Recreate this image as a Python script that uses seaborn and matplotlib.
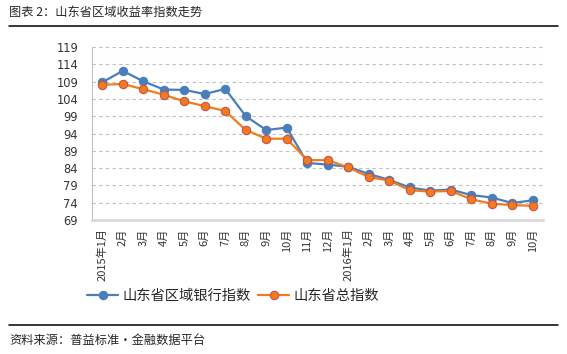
import seaborn as sns
import matplotlib.pyplot as plt
import matplotlib.lines as mlines
import pandas as pd

# data
months = ["2015年1月", "2月", "3月", "4月", "5月", "6月", "7月", "8月", "9月", "10月", "11月", "12月",
          "2016年1月", "2月", "3月", "4月", "5月", "6月", "7月", "8月", "9月", "10月"]
bank_index = [108.8, 112.1, 109.1, 106.7, 106.6, 105.4, 106.9, 99.0, 95.0, 95.7, 85.5, 85.0,
              84.4, 82.3, 80.6, 78.4, 77.5, 77.8, 76.2, 75.5, 73.9, 74.7]
total_index = [108.1, 108.3, 106.8, 105.2, 103.3, 101.9, 100.5, 95.0, 92.5, 92.5, 86.3, 86.3,
               84.2, 81.4, 80.4, 77.6, 77.2, 77.4, 75.0, 73.7, 73.3, 73.1]
series_names = ["山东省区域银行指数", "山东省总指数"]
yticks = list(range(69, 120, 5))

df = pd.DataFrame({"pos": range(len(months)), "month": months,
                   series_names[0]: bank_index, series_names[1]: total_index})

sns.set_theme(style="white")
plt.rcParams['font.family'] = ['Noto Sans CJK SC', 'DejaVu Sans']

fig = plt.figure(figsize=(5.67, 3.54), dpi=100)
ax = fig.add_axes([92/567, 1-220/354, (543-92)/567, (220-47)/354])

styles = {
    series_names[0]: dict(color="#4a7ebb", mec="#4a7ebb"),
    series_names[1]: dict(color="#f07c1e", mec="#c9504a"),
}
for name in series_names:
    st = styles[name]
    sns.lineplot(data=df, x="pos", y=name, ax=ax, color=st["color"], linewidth=1.6,
                 marker="o", markersize=6, markerfacecolor=st["color"],
                 markeredgecolor=st["mec"], markeredgewidth=0.8, label=name)

ax.set_xlim(-0.5, len(months) - 0.5)
ax.set_ylim(69, 119)
ax.set_yticks(yticks)
ax.set_yticklabels([str(v) for v in yticks], fontsize=8.3, color="#333333", family="DejaVu Sans")
ax.set_xticks(range(len(months)))
ax.set_xticklabels(months, rotation=90, fontsize=8, color="#333333")
ax.set_xlabel("")
ax.set_ylabel("")
ax.tick_params(axis="y", length=0, pad=10)
ax.tick_params(axis="x", length=0, pad=6)
ax.yaxis.grid(True, linestyle=(0, (3, 3)), color="#bfbfbf", linewidth=0.8)
ax.xaxis.grid(False)
for s in ["top", "right"]:
    ax.spines[s].set_visible(False)
ax.spines["left"].set_color("#bfbfbf")
ax.spines["left"].set_linewidth(0.8)
ax.spines["bottom"].set_color("#d9d9d9")
ax.spines["bottom"].set_linewidth(2)

ax.get_legend().remove()
handles, labels = ax.get_legend_handles_labels()
fig.legend(handles, labels, loc="center", bbox_to_anchor=(233/567, 1-296/354), ncol=2,
           frameon=False, fontsize=10.3, handlelength=2.2, handletextpad=0.3, columnspacing=0.5)

# title, rules and source note
fig.text(9/567, 1-12/354, "图表 2：山东省区域收益率指数走势", fontsize=8.8, va="center", ha="left")
fig.add_artist(mlines.Line2D([9/567, 558/567], [1-26/354, 1-26/354], color="black", linewidth=1.1))
fig.add_artist(mlines.Line2D([9/567, 558/567], [1-325/354, 1-325/354], color="black", linewidth=1.1))
fig.text(9/567, 1-340/354, "资料来源：普益标准・金融数据平台", fontsize=8.8, va="center", ha="left")

fig.savefig("out.png", dpi=100)
